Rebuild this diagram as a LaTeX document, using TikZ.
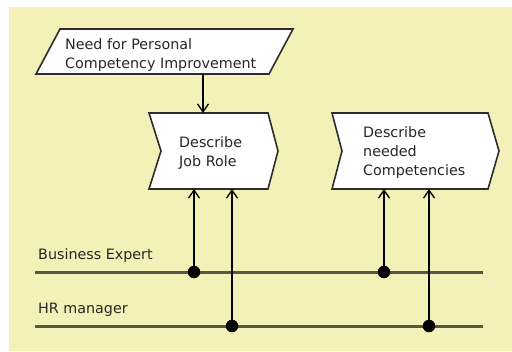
\documentclass[tikz,border=0pt]{standalone}
\usepackage{fontspec}
\setmainfont{DejaVu Sans}
\usetikzlibrary{arrows.meta}
\definecolor{bgyellow}{RGB}{243,241,183}
\definecolor{lanecol}{RGB}{88,86,68}
\definecolor{boxborder}{RGB}{45,45,45}
\tikzset{
  txt/.style={inner sep=0pt, align=left, font=\fontsize{14.3bp}{19bp}\selectfont, text=black!85},
  shapebox/.style={draw=boxborder, fill=white, line width=1.6bp, line join=miter},
  lane/.style={draw=lanecol, line width=3bp},
  conn/.style={draw=black, line width=1.4bp, -{Straight Barb[length=8bp,width=11bp,line width=1.3bp]}},
  dot/.style={circle, fill=black, inner sep=0pt, minimum size=12.5bp},
}
\begin{document}
\begin{tikzpicture}[x=1bp,y=-1bp]
\useasboundingbox (0,0) rectangle (512,351);
\fill[bgyellow] (9,7) rectangle (512,351);
% event (parallelogram)
\draw[shapebox] (60,29) -- (293,29) -- (269,74) -- (36,74) -- cycle;
\node[txt, anchor=base west] (need) at (65,68) {Need for Personal\\Competency Improvement};
% function boxes
\draw[shapebox] (149,113) -- (268,113) -- (278,151) -- (268,189) -- (149,189) -- (161,151) -- cycle;
\node[txt, anchor=base west] (job) at (179,166.5) {Describe\\Job Role};
\draw[shapebox] (332,113) -- (488,113) -- (499,151) -- (488,189) -- (332,189) -- (342,151) -- cycle;
\node[txt, anchor=base west] (comp) at (363,175.3) {Describe\\needed\\Competencies};
% lanes
\node[txt, anchor=base west] (be) at (38,259) {Business Expert};
\node[txt, anchor=base west] (hr) at (38,313) {HR manager};
\coordinate (beL) at (35,272); \coordinate (beR) at (483,272);
\coordinate (hrL) at (35,326); \coordinate (hrR) at (483,326);
\draw[lane] (beL) -- (beR);
\draw[lane] (hrL) -- (hrR);
% connection points
\coordinate (needB) at (203,74);
\coordinate (jobT) at (203,113);
\coordinate (jobB1) at (194,189);
\coordinate (jobB2) at (232,189);
\coordinate (compB1) at (384,189);
\coordinate (compB2) at (429,189);
\node[dot] (d1) at (194,272) {};
\node[dot] (d2) at (232,326) {};
\node[dot] (d3) at (384,272) {};
\node[dot] (d4) at (429,326) {};
\draw[conn] (needB) -- (jobT);
\draw[conn] (d1) -- (jobB1);
\draw[conn] (d2) -- (jobB2);
\draw[conn] (d3) -- (compB1);
\draw[conn] (d4) -- (compB2);
\end{tikzpicture}
\end{document}
